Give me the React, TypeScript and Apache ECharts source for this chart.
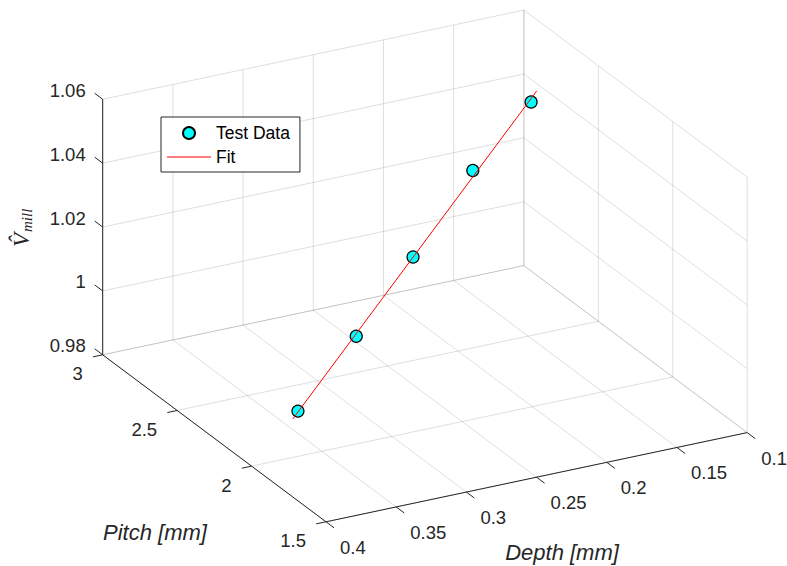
import React, { useEffect, useRef } from 'react';
import * as echarts from 'echarts';

// Axis ticks
const depthTicks = [0.1, 0.15, 0.2, 0.25, 0.3, 0.35, 0.4];
const pitchTicks = [1.5, 2, 2.5, 3];
const vTicks = [0.98, 1, 1.02, 1.04, 1.06];

// Axis ranges (near corner -> far corner)
const depthRange = [0.4, 0.1];
const pitchRange = [3, 1.5];
const vRange = [0.98, 1.06];

// Test data
const testDepth = [0.35, 0.3, 0.25, 0.2, 0.15];
const testPitch = [2.16, 2.24, 2.33, 2.4, 2.48];
const testV = [0.987, 1.003, 1.02, 1.04, 1.054];

// Fit line
const fitDepth = [0.355, 0.146];
const fitPitch = [2.148, 2.48];
const fitV = [0.9854, 1.0571];

// 3D view projection (orthographic)
const ORIGIN = [102.7, 354.8];
const UVEC = [421.2, -89.2];
const VVEC = [223.3, 167];
const WVEC = [0, -255.5];

function project(d: number, p: number, v: number): number[] {
  const a = (d - depthRange[0]) / (depthRange[1] - depthRange[0]);
  const b = (p - pitchRange[0]) / (pitchRange[1] - pitchRange[0]);
  const c = (v - vRange[0]) / (vRange[1] - vRange[0]);
  return [
    ORIGIN[0] + a * UVEC[0] + b * VVEC[0] + c * WVEC[0],
    ORIGIN[1] + a * UVEC[1] + b * VVEC[1] + c * WVEC[1],
  ];
}

function unit(vec: number[], s: number) {
  const l = Math.hypot(vec[0], vec[1]);
  return [(vec[0] / l) * s, (vec[1] / l) * s];
}

const FONT = 'Liberation Sans, Arial, Helvetica, sans-serif';
const SERIF = 'Liberation Serif, DejaVu Serif, serif';
const TXT = '#262626';

function segSeries(data: number[][], color: string, z: number) {
  return {
    type: 'custom',
    coordinateSystem: 'cartesian2d',
    silent: true,
    z,
    data,
    renderItem: (params: any, api: any) => {
      const p1 = api.coord([api.value(0), api.value(1)]);
      const p2 = api.coord([api.value(2), api.value(3)]);
      return {
        type: 'line',
        shape: { x1: p1[0], y1: p1[1], x2: p2[0], y2: p2[1] },
        style: { stroke: color, lineWidth: 1, fill: null },
      };
    },
  };
}

function labelSeries(data: number[][], dx: number, dy: number, align: string, z: number) {
  return {
    type: 'custom',
    coordinateSystem: 'cartesian2d',
    silent: true,
    z,
    data,
    renderItem: (params: any, api: any) => {
      const p = api.coord([api.value(0), api.value(1)]);
      return {
        type: 'text',
        x: p[0] + dx,
        y: p[1] + dy,
        style: {
          text: String(api.value(2)),
          align,
          verticalAlign: 'middle',
          fontSize: 18.5,
          fontFamily: FONT,
          fill: TXT,
        },
      };
    },
  };
}

export default function App() {
  const ref = useRef<HTMLDivElement>(null);

  useEffect(() => {
    if (!ref.current) return;
    const chart = echarts.init(ref.current, null, { renderer: 'svg' });

    const dNear = depthRange[0], dFar = depthRange[1];
    const pNear = pitchRange[0], pFar = pitchRange[1];
    const vLo = vRange[0], vHi = vRange[1];
    const seg = (a: number[], b: number[]) => {
      const p1 = project(a[0], a[1], a[2]);
      const p2 = project(b[0], b[1], b[2]);
      return [p1[0], p1[1], p2[0], p2[1]];
    };

    // grid lines on floor, back wall and right wall
    const gridSegs: number[][] = [];
    depthTicks.forEach((d) => {
      gridSegs.push(seg([d, pNear, vLo], [d, pFar, vLo]));
      gridSegs.push(seg([d, pNear, vLo], [d, pNear, vHi]));
    });
    pitchTicks.forEach((p) => {
      gridSegs.push(seg([dNear, p, vLo], [dFar, p, vLo]));
      gridSegs.push(seg([dFar, p, vLo], [dFar, p, vHi]));
    });
    vTicks.forEach((v) => {
      gridSegs.push(seg([dNear, pNear, v], [dFar, pNear, v]));
      gridSegs.push(seg([dFar, pNear, v], [dFar, pFar, v]));
    });

    // axis lines
    const axisSegs: number[][] = [
      seg([dNear, pNear, vLo], [dNear, pNear, vHi]),
      seg([dNear, pNear, vLo], [dNear, pFar, vLo]),
      seg([dNear, pFar, vLo], [dFar, pFar, vLo]),
    ];

    // tick marks
    const TL = 10;
    const zDir = unit([-VVEC[0], -VVEC[1]], TL);
    const pDir = unit([-UVEC[0], -UVEC[1]], TL);
    const dDir = unit([VVEC[0], VVEC[1]], TL);
    const tickSegs: number[][] = [];
    const vLabels: number[][] = [];
    const pLabels: number[][] = [];
    const dLabels: number[][] = [];
    vTicks.forEach((v) => {
      const q = project(dNear, pNear, v);
      tickSegs.push([q[0], q[1], q[0] + zDir[0], q[1] + zDir[1]]);
      vLabels.push([q[0], q[1], v]);
    });
    pitchTicks.forEach((p) => {
      const q = project(dNear, p, vLo);
      tickSegs.push([q[0], q[1], q[0] + pDir[0], q[1] + pDir[1]]);
      pLabels.push([q[0], q[1], p]);
    });
    depthTicks.forEach((d) => {
      const q = project(d, pFar, vLo);
      tickSegs.push([q[0], q[1], q[0] + dDir[0], q[1] + dDir[1]]);
      dLabels.push([q[0], q[1], d]);
    });

    const testData = testDepth.map((d, i) => project(d, testPitch[i], testV[i]));
    const fitData = fitDepth.map((d, i) => project(d, fitPitch[i], fitV[i]));

    chart.setOption({
      animation: false,
      backgroundColor: '#ffffff',
      grid: { left: 0, right: 0, top: 0, bottom: 0, containLabel: false },
      xAxis: { type: 'value', min: 0, max: 787, show: false },
      yAxis: { type: 'value', min: 0, max: 566, inverse: true, show: false },
      legend: {
        orient: 'vertical',
        left: 161,
        top: 117,
        data: [
          { name: 'Test Data', icon: 'circle' },
          { name: 'Fit', icon: 'path://M0,0H44V1H0Z', itemStyle: { color: '#ff0000' } },
        ],
        itemWidth: 44,
        itemHeight: 12,
        itemGap: 4,
        padding: [6, 10, 5, 6],
        backgroundColor: '#ffffff',
        borderColor: '#262626',
        borderWidth: 1,
        borderRadius: 0,
        selectedMode: false,
        textStyle: { fontSize: 17.5, fontFamily: FONT, color: '#000000', lineHeight: 20 },
      },
      graphic: [
        {
          type: 'text',
          x: 155,
          y: 532,
          style: {
            text: 'Pitch [mm]',
            align: 'center',
            verticalAlign: 'middle',
            fontSize: 22,
            fontStyle: 'italic',
            fontFamily: FONT,
            fill: TXT,
          },
        },
        {
          type: 'text',
          x: 562,
          y: 552,
          style: {
            text: 'Depth [mm]',
            align: 'center',
            verticalAlign: 'middle',
            fontSize: 22,
            fontStyle: 'italic',
            fontFamily: FONT,
            fill: TXT,
          },
        },
        {
          type: 'group',
          x: 21,
          y: 247,
          rotation: Math.PI / 2,
          children: [
            {
              type: 'text',
              x: 0,
              y: 0,
              style: {
                text: 'V\u0302',
                align: 'left',
                verticalAlign: 'middle',
                fontSize: 23,
                fontStyle: 'italic',
                fontFamily: SERIF,
                fill: TXT,
              },
            },
            {
              type: 'text',
              x: 15,
              y: 6,
              style: {
                text: 'mill',
                align: 'left',
                verticalAlign: 'middle',
                fontSize: 15,
                fontStyle: 'italic',
                fontFamily: SERIF,
                fill: TXT,
              },
            },
          ],
        },
      ],
      series: [
        segSeries(gridSegs, 'rgba(38,38,38,0.15)', 1),
        segSeries(axisSegs, TXT, 2),
        segSeries(tickSegs, TXT, 2),
        labelSeries(vLabels, -17, -9, 'right', 2),
        labelSeries(pLabels, -20, 19, 'right', 2),
        labelSeries(dLabels, 14, 25.5, 'left', 2),
        {
          name: 'Test Data',
          type: 'scatter',
          z: 3,
          data: testData,
          symbol: 'circle',
          symbolSize: 12,
          itemStyle: { color: '#00ffff', borderColor: '#000000', borderWidth: 1.2, opacity: 1 },
          emphasis: { disabled: true },
        },
        {
          name: 'Fit',
          type: 'line',
          z: 4,
          data: fitData,
          symbol: 'none',
          itemStyle: { color: '#ff0000' },
          lineStyle: { color: '#ff0000', width: 1 },
          emphasis: { disabled: true },
        },
      ],
    });

    return () => chart.dispose();
  }, []);

  return (
    <div
      ref={ref}
      style={{ position: 'absolute', left: 0, top: 0, width: 787, height: 566 }}
    />
  );
}
